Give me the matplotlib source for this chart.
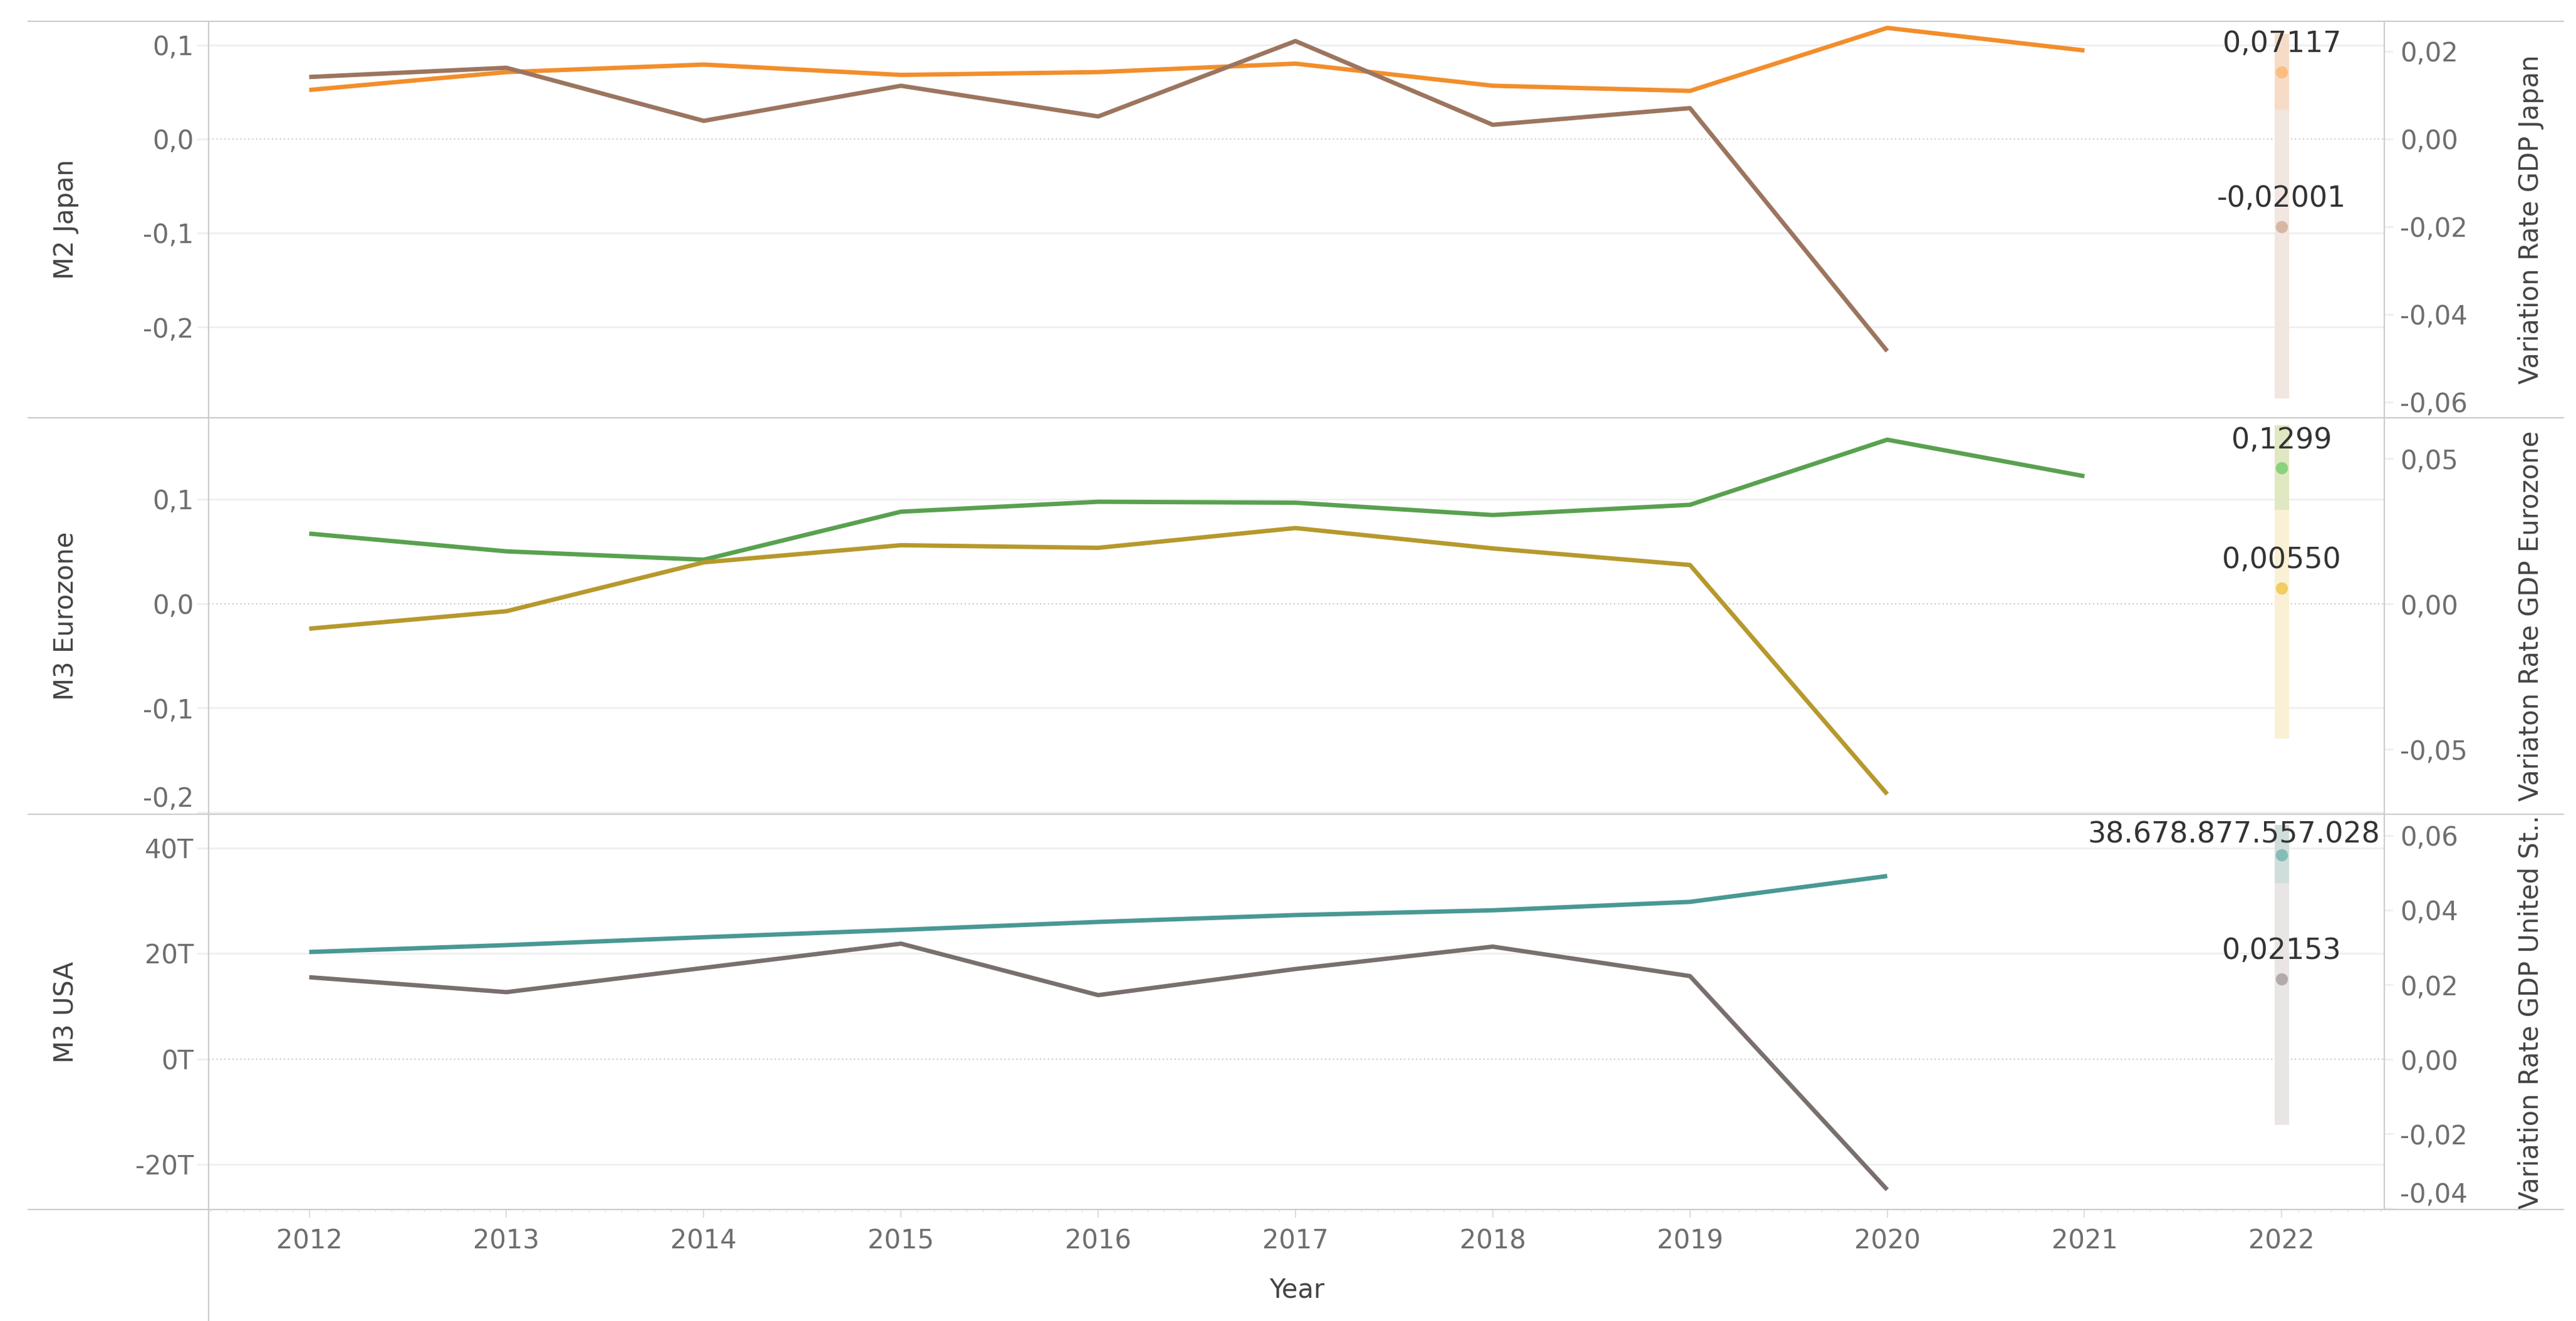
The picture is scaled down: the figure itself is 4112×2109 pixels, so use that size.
import matplotlib.pyplot as plt
from matplotlib.lines import Line2D
from matplotlib.ticker import FuncFormatter
import numpy as np

plt.rcParams['font.family'] = ['DejaVu Sans']

# data
years = [2012, 2013, 2014, 2015, 2016, 2017, 2018, 2019, 2020, 2021]
gdp_years = [2012, 2013, 2014, 2015, 2016, 2017, 2018, 2019, 2020]
usa_years = [2012, 2013, 2014, 2015, 2016, 2017, 2018, 2019, 2020]

m2_japan = [0.052, 0.071, 0.079, 0.068, 0.071, 0.080, 0.0565, 0.051, 0.118, 0.094]
gdp_japan = [0.0141, 0.0162, 0.0041, 0.0121, 0.0051, 0.0223, 0.0032, 0.0070, -0.0484]

m3_euro = [0.067, 0.050, 0.042, 0.088, 0.0975, 0.0966, 0.0848, 0.0946, 0.157, 0.122]
gdp_euro = [-0.0085, -0.0025, 0.0143, 0.0202, 0.0193, 0.0261, 0.0191, 0.0134, -0.0654]

m3_usa = [20.3, 21.6, 23.1, 24.5, 26.0, 27.3, 28.2, 29.8, 34.7]  # trillions
gdp_usa = [0.0220, 0.0180, 0.0245, 0.0310, 0.0172, 0.0242, 0.0302, 0.0223, -0.0350]

# highlighted 2022 values
hl_year = 2022
m2_japan_hl, gdp_japan_hl = 0.07117, -0.02001
m3_euro_hl, gdp_euro_hl = 0.1299, 0.00550
m3_usa_hl, gdp_usa_hl = 38.678877557028, 0.02153
hl_labels = [["0,07117", "-0,02001"], ["0,1299", "0,00550"], ["38.678.877.557.028", "0,02153"]]
# shaded 2022 band (bottom, split, top) in left-axis units
bands = [(-0.276, 0.031, 0.112), (-0.1295, 0.0898, 0.171), (-12.5, 33.4, 44.4)]

tick_years = list(range(2012, 2023))

W, H = 4112, 2109
def fx(px):
    return px / W
def fy(py):
    return 1 - py / H

fig = plt.figure(figsize=(W / 100, H / 100), dpi=100)

edges = [(34, 667), (667, 1300), (1300, 1931)]
panels = [
    dict(x1=years, y1=m2_japan, x2=gdp_years, y2=gdp_japan, c1='#f28e2b', c2='#9c755f',
         p1=m2_japan_hl, p2=gdp_japan_hl, pc1='#fbbd80', pc2='#d8b6a6',
         tint='#f6dcc6', pale='#f1e6e0',
         ylim1=(-0.2965, 0.125), ylim2=(-0.0636, 0.0268),
         t1=[0.1, 0.0, -0.1, -0.2], t2=[0.02, 0.0, -0.02, -0.04, -0.06],
         f1=lambda v, p: f"{v:.1f}".replace('.', ','),
         title1='M2 Japan', title2='Variation Rate GDP Japan'),
    dict(x1=years, y1=m3_euro, x2=gdp_years, y2=gdp_euro, c1='#59a14f', c2='#b6992d',
         p1=m3_euro_hl, p2=gdp_euro_hl, pc1='#8ad27e', pc2='#f1cd62',
         tint='#e0e8c2', pale='#faf0d4',
         ylim1=(-0.202, 0.178), ylim2=(-0.0723, 0.064),
         t1=[0.1, 0.0, -0.1, -0.2], t2=[0.05, 0.0, -0.05],
         f1=lambda v, p: f"{v:.1f}".replace('.', ','),
         title1='M3 Eurozone', title2='Variaton Rate GDP Eurozone'),
    dict(x1=usa_years, y1=m3_usa, x2=gdp_years, y2=gdp_usa, c1='#499894', c2='#79706e',
         p1=m3_usa_hl, p2=gdp_usa_hl, pc1='#84bdb6', pc2='#b3abaa',
         tint='#d0dedb', pale='#e9e5e4',
         ylim1=(-28.5, 46.4), ylim2=(-0.0403, 0.0657),
         t1=[40, 20, 0, -20], t2=[0.06, 0.04, 0.02, 0.0, -0.02, -0.04],
         f1=lambda v, p: f"{v:.0f}T",
         title1='M3 USA', title2='Variation Rate GDP United St..'),
]

tick_col = '#6e6e6e'
grid_col = '#efefef'
fs = 30

for i, (pan, (top, bot)) in enumerate(zip(panels, edges)):
    ax = fig.add_axes([fx(333), fy(bot), fx(3806) - fx(333), (bot - top) / H])
    ax2 = ax.twinx()
    for a in (ax, ax2):
        for s in a.spines.values():
            s.set_visible(False)
    ax.set_xlim(2011.49, 2022.52)
    ax.set_ylim(*pan['ylim1'])
    ax2.set_ylim(*pan['ylim2'])

    # gridlines and zero line
    for t in pan['t1']:
        if t == 0:
            ax.axhline(0, color='#bdbdbd', lw=1.3, ls=(0, (1, 2.5)), zorder=1)
        else:
            ax.axhline(t, color=grid_col, lw=2, zorder=0)

    # 2022 shaded band
    b0, b1, b2 = bands[i]
    ax.bar(hl_year, b1 - b0, bottom=b0, width=0.073, color=pan['pale'], zorder=2)
    ax.bar(hl_year, b2 - b1, bottom=b1, width=0.073, color=pan['tint'], zorder=2)

    ax.plot(pan['x1'], pan['y1'], color=pan['c1'], lw=5, zorder=3, solid_capstyle='butt')
    ax2.plot(pan['x2'], pan['y2'], color=pan['c2'], lw=5, zorder=3, solid_capstyle='butt')
    ax.plot([hl_year], [pan['p1']], 'o', color=pan['pc1'], ms=13, zorder=4)
    ax2.plot([hl_year], [pan['p2']], 'o', color=pan['pc2'], ms=13, zorder=4)

    lab1, lab2 = hl_labels[i]
    if i == 2:
        ax.annotate(lab1, xy=(2022.5, pan['p1']), xytext=(0, 32), textcoords='offset pixels',
                    ha='right', va='center', fontsize=33, color='#333333', zorder=5)
    else:
        ax.annotate(lab1, xy=(hl_year, pan['p1']), xytext=(0, 44), textcoords='offset pixels',
                    ha='center', va='center', fontsize=33, color='#333333', zorder=5)
    ax2.annotate(lab2, xy=(hl_year, pan['p2']), xytext=(0, 44), textcoords='offset pixels',
                 ha='center', va='center', fontsize=33, color='#333333', zorder=5)

    ax.set_yticks(pan['t1'])
    ax.yaxis.set_major_formatter(FuncFormatter(pan['f1']))
    ax.tick_params(axis='y', length=14, width=2, color=grid_col, pad=3, labelsize=fs, labelcolor=tick_col)
    ax2.set_yticks(pan['t2'])
    ax2.yaxis.set_major_formatter(FuncFormatter(lambda v, p: f"{v:.2f}".replace('.', ',')))
    ax2.tick_params(axis='y', length=10, width=2, color=grid_col, pad=8, labelsize=fs, labelcolor=tick_col)

    # labels sitting on the bottom edge are pushed up, like the original
    if i == 1:
        ax.get_yticklabels()[-1].set_va('bottom')
    if i == 2:
        ax2.get_yticklabels()[-1].set_va('bottom')

    if i == 2:
        ax.set_xticks(tick_years)
        ax.set_xticks(np.arange(2011.5, 2022.52, 1 / 12), minor=True)
        ax.tick_params(axis='x', which='major', length=9, width=1.5, color='#dddddd', pad=12,
                       labelsize=fs, labelcolor=tick_col)
        ax.tick_params(axis='x', which='minor', length=3, width=1, color='#e2e2e2')
    else:
        ax.set_xticks([])

    ymid = (top + bot) / 2
    fig.text(fx(105), fy(ymid), pan['title1'], rotation=90, ha='center', va='center',
             fontsize=fs, color='#444444')
    fig.text(fx(4040), fy(ymid), pan['title2'], rotation=90, ha='center', va='center',
             fontsize=fs, color='#444444')

# frame lines like the dashboard
for y in [34, 667, 1300, 1931]:
    fig.add_artist(Line2D([fx(45), fx(4092)], [fy(y), fy(y)], color='#cccccc', lw=1.6))
fig.add_artist(Line2D([fx(333), fx(333)], [fy(34), fy(2109)], color='#cccccc', lw=1.6))
fig.add_artist(Line2D([fx(3806), fx(3806)], [fy(34), fy(1931)], color='#cccccc', lw=1.6))

fig.text(fx(2070), fy(2060), 'Year', ha='center', va='center', fontsize=fs, color='#444444')

fig.savefig('out.png', dpi=100, facecolor='white')
